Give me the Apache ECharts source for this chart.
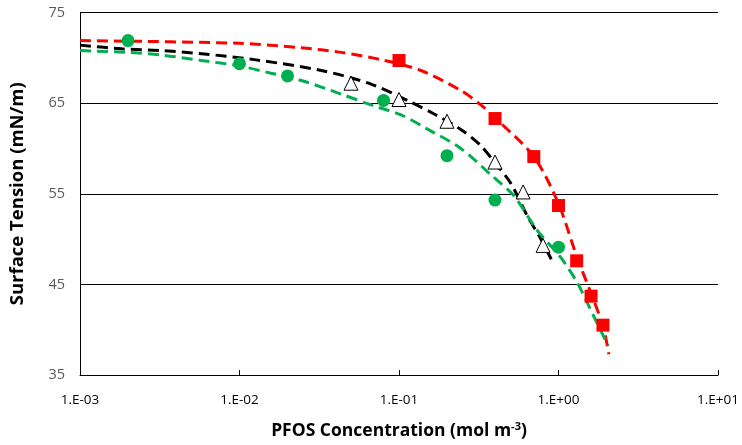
<!DOCTYPE html>
<html><head><meta charset="utf-8">
<script src="https://cdn.jsdelivr.net/npm/echarts@6/dist/echarts.min.js"></script>
<style>html,body{margin:0;padding:0;background:#fff}#c{width:742px;height:445px}</style>
</head><body><div id="c"></div>
<script>
// Measured points [concentration, surface tension]
const greenPts = [[0.002,71.9],[0.01,69.35],[0.02,68.0],[0.08,65.3],[0.2,59.2],[0.4,54.3],[1.0,49.1]];
const blackPts = [[0.05,67.2],[0.1,65.4],[0.2,63.0],[0.4,58.5],[0.6,55.2],[0.8,49.3]];
const redPts = [[0.1,69.7],[0.4,63.3],[0.7,59.1],[1.0,53.7],[1.3,47.6],[1.6,43.7],[1.9,40.5]];
// Fitted dashed curves
const redFit = [[0.001,71.9],[0.01,71.6],[0.0244,71.1],[0.0434,70.6],[0.0772,69.8],[0.137,68.6],[0.244,66.4],[0.326,64.8],[0.434,62.8],[0.7,59.1],[1.0,53.9],[1.3,48.1],[1.6,44.0],[1.9,40.4],[2.07,37.3]];
const blackFit = [[0.001,71.4],[0.00183,71.0],[0.00326,70.8],[0.00579,70.45],[0.0124,69.8],[0.0326,68.6],[0.0668,67.1],[0.119,65.1],[0.166,63.8],[0.244,62.1],[0.326,60.3],[0.4,58.4],[0.5,56.2],[0.64,52.5],[0.77,50.1],[0.93,47.3]];
const greenFit = [[0.001,70.8],[0.00197,70.6],[0.00326,70.3],[0.00579,69.7],[0.01,69.1],[0.0158,68.3],[0.0244,67.5],[0.0434,66.0],[0.0668,64.8],[0.103,63.7],[0.152,62.1],[0.244,60.0],[0.393,56.8],[0.524,54.8],[0.74,50.9],[1.03,48.0],[1.31,45.2],[1.58,42.3],[2.05,38.2]];
const yTicks = {min:35, max:75, interval:10};
const xRange = {min:0.001, max:10};

const FONT = "'Open Sans',sans-serif";
function fmtX(v){
  const e = Math.round(Math.log10(v));
  const a = Math.abs(e);
  return '1.E' + (e>=0?'+':'-') + (a<10?'0':'') + a;
}
const chart = echarts.init(document.getElementById('c'), null, {renderer:'canvas'});
const dash = [11,6];
chart.setOption({
  animation:false,
  backgroundColor:'#fff',
  grid:{left:78, right:24, top:12.5, bottom:64, containLabel:false},
  xAxis:{
    type:'log', logBase:10, min:xRange.min, max:xRange.max,
    axisLine:{show:true, lineStyle:{color:'#000', width:1}},
    axisTick:{show:true, inside:true, length:5, lineStyle:{color:'#000'}},
    minorTick:{show:false},
    splitLine:{show:false},
    axisLabel:{formatter:fmtX, color:'#000', fontSize:13.5, fontFamily:FONT, margin:18, letterSpacing:-0.5},
    name:'{a|PFOS Concentration (mol m}{s|-3}{a|)}',
    nameLocation:'middle', nameGap:46,
    nameTextStyle:{rich:{
      a:{fontSize:17.5, fontWeight:'bold', fontFamily:FONT, color:'#000'},
      s:{fontSize:11, fontWeight:'bold', fontFamily:FONT, color:'#000', verticalAlign:'top', padding:[0,0,9,0]}
    }}
  },
  yAxis:{
    type:'value', min:yTicks.min, max:yTicks.max, interval:yTicks.interval,
    axisLine:{show:true, lineStyle:{color:'#000', width:1}},
    axisTick:{show:false},
    splitLine:{show:true, lineStyle:{color:'#000', width:1}},
    axisLabel:{color:'#595959', fontSize:14.5, fontFamily:FONT, margin:15},
    name:'Surface Tension (mN/m)', nameLocation:'middle', nameGap:53,
    nameTextStyle:{fontSize:18.5, fontWeight:'bold', fontFamily:FONT, color:'#000'}
  },
  series:[
    {type:'line', data:redFit, showSymbol:false, smooth:0.3, lineStyle:{color:'#FF0000', width:3, type:dash}, z:2},
    {type:'line', data:blackFit, showSymbol:false, smooth:0.3, lineStyle:{color:'#000', width:3, type:dash}, z:2},
    {type:'line', data:greenFit, showSymbol:false, smooth:0.3, lineStyle:{color:'#00B050', width:3, type:dash}, z:2},
    {type:'scatter', data:greenPts, symbol:'circle', symbolSize:13, itemStyle:{color:'#00B050', opacity:1}, z:3},
    {type:'scatter', data:blackPts, symbol:'triangle', symbolSize:14, itemStyle:{color:'#fff', borderColor:'#000', borderWidth:1, opacity:1}, z:3},
    {type:'scatter', data:redPts, symbol:'rect', symbolSize:13, itemStyle:{color:'#FF0000', opacity:1}, z:3}
  ]
});
</script></body></html>
